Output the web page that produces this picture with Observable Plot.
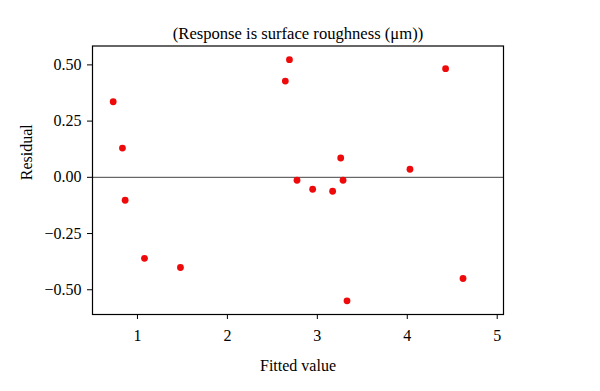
<!DOCTYPE html>
<html>
<head>
<meta charset="utf-8">
<script src="https://cdn.jsdelivr.net/npm/d3@7"></script>
<script src="https://cdn.jsdelivr.net/npm/@observablehq/plot@0.6"></script>
<style>
  html, body { margin: 0; padding: 0; background: #fff; }
</style>
</head>
<body>
<div id="chart"></div>
<script>
const titleText = "(Response is surface roughness (\u03bcm))";
const xLabel = "Fitted value";
const yLabel = "Residual";
const xTicks = [1, 2, 3, 4, 5];
const yTicks = [-0.5, -0.25, 0, 0.25, 0.5];
const fitted =   [0.73, 2.69, 2.644, 4.426, 0.833, 0.863, 2.774, 2.948, 3.17, 3.26, 3.286, 4.03, 1.078, 1.478, 4.62, 3.33];
const residual = [0.336, 0.523, 0.428, 0.483, 0.130, -0.102, -0.013, -0.053, -0.062, 0.086, -0.013, 0.036, -0.36, -0.401, -0.45, -0.549];

const data = fitted.map((f, i) => ({fitted: f, residual: residual[i]}));
const font = "'Liberation Serif', 'DejaVu Serif', serif";

const chart = Plot.plot({
  width: 600,
  height: 391,
  marginLeft: 92,
  marginRight: 97,
  marginTop: 45.5,
  marginBottom: 77,
  style: {fontFamily: font, fontSize: "16px", color: "#000", background: "#fff"},
  x: {domain: [0.5, 5.07]},
  y: {domain: [-0.61, 0.584]},
  marks: [
    Plot.ruleY([0], {stroke: "#444", strokeWidth: 1}),
    Plot.frame({stroke: "#000", strokeWidth: 1.2}),
    Plot.axisX({ticks: xTicks, tickFormat: d3.format("d"), tickSize: 5, tickPadding: 10, label: null, fontSize: 16}),
    Plot.axisY({ticks: yTicks, tickFormat: d3.format(".2f"), tickSize: 5, tickPadding: 6, label: null, fontSize: 16}),
    Plot.dot(data, {x: "fitted", y: "residual", r: 3.4, fill: "#ee0a0a", stroke: "none"}),
    Plot.text([titleText], {frameAnchor: "top", dy: -19, fontSize: 16.6, fill: "#000"}),
    Plot.text([xLabel], {frameAnchor: "bottom", dy: 56, fontSize: 16, fill: "#000"}),
    Plot.text([yLabel], {frameAnchor: "left", dx: -66, rotate: -90, fontSize: 16, fill: "#000"})
  ]
});
document.getElementById("chart").appendChild(chart);
</script>
</body>
</html>
